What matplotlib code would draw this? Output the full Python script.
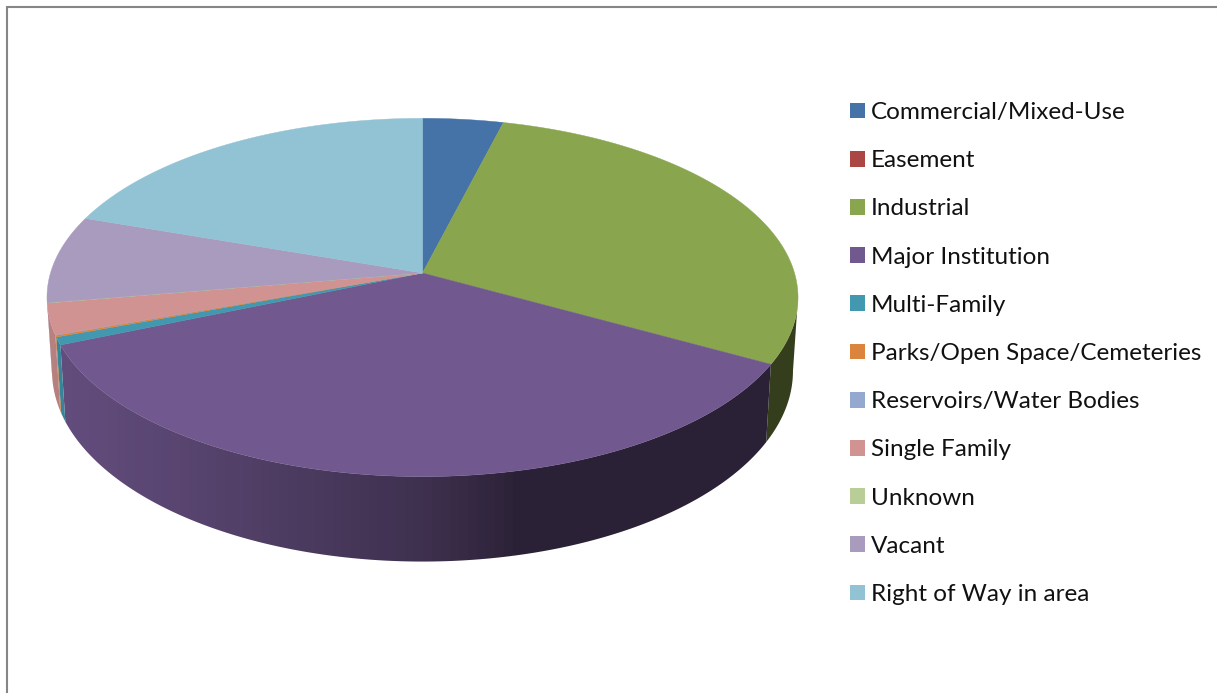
import numpy as np
import matplotlib
matplotlib.use('Agg')
import matplotlib.pyplot as plt
from matplotlib.patches import Patch, Polygon

# land use shares, percent
labels = ['Commercial/Mixed-Use', 'Easement', 'Industrial', 'Major Institution',
          'Multi-Family', 'Parks/Open Space/Cemeteries', 'Reservoirs/Water Bodies',
          'Single Family', 'Unknown', 'Vacant', 'Right of Way in area']
shares = [3.96, 0.0, 29.1, 35.6, 0.7, 0.15, 0.02, 2.8, 0.02, 7.9, 19.75]
colors = ['#4572A7', '#AA4643', '#89A54E', '#71588F', '#4198AF', '#DB843D',
          '#93A9CF', '#D19392', '#B9CD96', '#A99BBD', '#92C3D4']

W, H = 1217, 693
fig = plt.figure(figsize=(W / 100, H / 100), dpi=100)
ax = fig.add_axes([0, 0, 1, 1])
ax.axis('off')

# perspective of the disc, in pixels
cx = 422.5
k = 0.1365
# the wall is only seen between the two points where the rim turns back
rim_right = np.pi - np.arcsin(np.sqrt(1 - k ** 2))
rim_left = np.pi + np.arcsin(np.sqrt(1 - k ** 2))


def top_xy(t):
    u, v = np.sin(t), np.cos(t)
    w = 1 + k * v
    return cx + 372 * u / w, 273 - 175.8 * v / w


def bottom_xy(t):
    u, v = np.sin(t), np.cos(t)
    w = 1 + k * v
    return cx + 367 * u / w, 345 - 187 * v / w


def wall_shade(x):
    # side wall gets darker to the right, in visible steps
    u = (np.floor(x / 9) * 9 - cx) / 376
    return np.interp(u, [-1, -0.64, -0.28, -0.01, 0.16, 0.25, 1],
                     [0.88, 0.78, 0.65, 0.55, 0.44, 0.38, 0.38])


fractions = np.array(shares) / sum(shares)
edges = np.concatenate([[0], np.cumsum(fractions)]) * 2 * np.pi

# outer wall first, the top face goes over it
for i in range(len(labels)):
    a, b = max(edges[i], rim_right), min(edges[i + 1], rim_left)
    if b <= a:
        continue
    tt = np.linspace(a, b, 200)
    x0, y0 = top_xy(tt)
    x1, y1 = bottom_xy(tt[::-1])
    outline = np.column_stack([np.r_[x0, x1], np.r_[y0, y1]])
    left, right = np.floor(outline[:, 0].min()) - 1, np.ceil(outline[:, 0].max()) + 1
    cols = np.arange(left, right) + 0.5
    base = np.array(matplotlib.colors.to_rgb(colors[i]))
    strip = (base[None, :] * wall_shade(cols)[:, None])[None, :, :]
    im = ax.imshow(strip, extent=(left, right, outline[:, 1].max(), outline[:, 1].min()),
                   aspect='auto', interpolation='nearest', zorder=2)
    im.set_clip_path(Polygon(outline, closed=True, transform=ax.transData))

# top face
for i in range(len(labels)):
    a, b = edges[i], edges[i + 1]
    if b <= a:
        continue
    tt = np.linspace(a, b, max(int(np.degrees(b - a) * 2), 2))
    x, y = top_xy(tt)
    ax.fill(np.r_[cx, x], np.r_[273, y], color=colors[i], lw=0.3, zorder=3)

ax.set_xlim(0, W)
ax.set_ylim(H, 0)

# chart frame, only top and left fall inside the canvas
ax.plot([6.5, 6.5, W + 5], [H + 5, 6.5, 6.5], color='#868686', lw=1.5,
        solid_joinstyle='miter', zorder=5, clip_on=False)

handles = [Patch(facecolor=c, edgecolor='none') for c in colors]
font_pt = 17.5
font_px = font_pt * 100 / 72
ax.legend(handles, labels, loc='upper left', bbox_to_anchor=(850, 102),
          bbox_transform=ax.transData, frameon=False, borderpad=0, borderaxespad=0,
          handlelength=15 / font_px, handleheight=15 / font_px, handletextpad=6 / font_px,
          labelspacing=(50.3 - font_px * 0.95) / font_px,
          prop={'family': 'Lato', 'size': font_pt}, labelcolor='#111111')

fig.savefig('out.png', dpi=100)
